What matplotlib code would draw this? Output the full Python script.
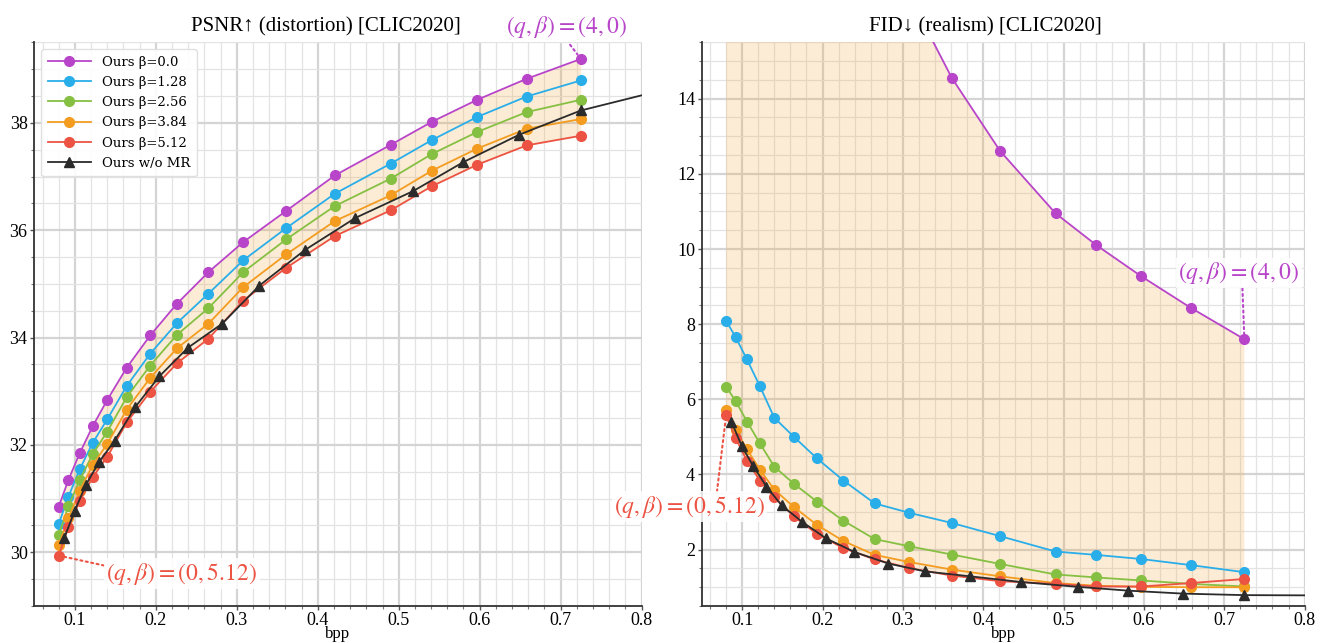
import matplotlib
matplotlib.use("Agg")
import matplotlib.pyplot as plt
from matplotlib.ticker import MultipleLocator
import numpy as np

plt.rcParams['font.family'] = ['Liberation Serif', 'DejaVu Serif']
plt.rcParams['mathtext.fontset'] = 'stix'

# bpp of the multi-rate model (same for all beta)
bpp = [0.080, 0.092, 0.106, 0.122, 0.140, 0.164, 0.193, 0.226, 0.265,
       0.308, 0.361, 0.421, 0.490, 0.541, 0.597, 0.658, 0.725]
# bpp of the model without MR (last point lies past the axis)
bpp_nomr = [0.0866, 0.0996, 0.1136, 0.1302, 0.149, 0.1747, 0.2044, 0.2395,
            0.282, 0.328, 0.384, 0.4466, 0.518, 0.580, 0.649, 0.725, 0.85]

betas = ['0.0', '1.28', '2.56', '3.84', '5.12']
colors = ['#b845c9', '#2aaee9', '#86c043', '#f39c20', '#ec5343']

psnr = {
    '0.0':  [30.85, 31.35, 31.85, 32.35, 32.84, 33.44, 34.04, 34.63, 35.22,
             35.78, 36.36, 37.02, 37.59, 38.02, 38.43, 38.82, 39.19],
    '1.28': [30.53, 31.04, 31.55, 32.04, 32.48, 33.10, 33.70, 34.27, 34.82,
             35.44, 36.04, 36.68, 37.24, 37.68, 38.11, 38.49, 38.79],
    '2.56': [30.33, 30.86, 31.35, 31.83, 32.25, 32.89, 33.48, 34.05, 34.55,
             35.22, 35.83, 36.45, 36.96, 37.42, 37.83, 38.20, 38.43],
    '3.84': [30.13, 30.64, 31.15, 31.63, 32.02, 32.66, 33.25, 33.80, 34.26,
             34.94, 35.55, 36.17, 36.65, 37.11, 37.52, 37.89, 38.07],
    '5.12': [29.94, 30.47, 30.96, 31.40, 31.78, 32.42, 32.99, 33.52, 33.98,
             34.69, 35.30, 35.89, 36.37, 36.82, 37.22, 37.58, 37.76],
}
psnr_nomr = [30.26, 30.77, 31.26, 31.69, 32.08, 32.71, 33.28, 33.81, 34.26,
             34.97, 35.63, 36.23, 36.73, 37.27, 37.78, 38.23, 38.70]

fid = {
    '0.0':  [50.0, 46.0, 42.0, 38.0, 34.0, 30.0, 26.0, 22.5, 19.5,
             16.74, 14.55, 12.61, 10.95, 10.10, 9.27, 8.44, 7.60],
    '1.28': [8.09, 7.65, 7.06, 6.35, 5.51, 5.01, 4.43, 3.84, 3.23,
             2.98, 2.71, 2.36, 1.95, 1.86, 1.75, 1.59, 1.40],
    '2.56': [6.34, 5.95, 5.41, 4.83, 4.21, 3.76, 3.28, 2.77, 2.28,
             2.09, 1.87, 1.62, 1.34, 1.26, 1.18, 1.09, 1.02],
    '3.84': [5.72, 5.19, 4.67, 4.13, 3.60, 3.14, 2.66, 2.23, 1.86,
             1.67, 1.47, 1.29, 1.11, 1.04, 1.01, 1.00, 1.00],
    '5.12': [5.57, 4.96, 4.36, 3.84, 3.40, 2.89, 2.42, 2.04, 1.74,
             1.51, 1.31, 1.16, 1.09, 1.02, 1.02, 1.11, 1.22],
}
fid_nomr = [5.41, 4.75, 4.23, 3.68, 3.18, 2.74, 2.30, 1.94, 1.63,
            1.42, 1.29, 1.14, 1.01, 0.91, 0.83, 0.79, 0.78]

fig = plt.figure(figsize=(13.25, 6.43), dpi=100)
ax1 = fig.add_axes([0.026, 0.0575, 0.4582, 0.8767])
ax2 = fig.add_axes([0.5298, 0.0575, 0.4548, 0.8767])


def style_axis(ax, ymajor):
    ax.set_xlim(0.05, 0.8)
    ax.xaxis.set_major_locator(MultipleLocator(0.1))
    ax.xaxis.set_minor_locator(MultipleLocator(0.02))
    ax.yaxis.set_major_locator(MultipleLocator(ymajor))
    ax.yaxis.set_minor_locator(MultipleLocator(0.5))
    ax.grid(which='major', color='#d4d4d4', linewidth=1.6, zorder=0)
    ax.grid(which='minor', color='#e3e3e3', linewidth=0.9, zorder=0)
    ax.set_axisbelow(True)
    for s in ['top', 'right']:
        ax.spines[s].set_visible(False)
    for s in ['left', 'bottom']:
        ax.spines[s].set_color('#333333')
        ax.spines[s].set_linewidth(1.3)
    ax.tick_params(which='major', length=3, width=1, color='#555555',
                   labelsize=13, pad=2)
    ax.tick_params(axis='x', which='major', pad=1)
    ax.tick_params(which='minor', length=2, width=0.8, color='#777777')
    ax.set_xlabel('bpp', fontsize=12, labelpad=-2)


def draw(ax, vals, nomr):
    for b, c in zip(betas, colors):
        ax.plot(bpp, vals[b], color=c, marker='o', markersize=7,
                linewidth=1.3, label='Ours β=' + b, zorder=3)
    ax.plot(bpp_nomr, nomr, color='#2b2b2b', marker='^', markersize=7,
            linewidth=1.3, label='Ours w/o MR', zorder=4)
    arr = np.array([vals[b] for b in betas])
    ax.fill_between(bpp, arr.max(axis=0), arr.min(axis=0),
                    color='#f5a330', alpha=0.2, linewidth=0, zorder=1)


# PSNR panel
style_axis(ax1, 2)
draw(ax1, psnr, psnr_nomr)
ax1.set_ylim(29, 39.5)
ax1.set_title('PSNR↑ (distortion) [CLIC2020]', fontsize=15, pad=8, x=0.48)
leg = ax1.legend(loc='upper left', prop={'family': 'DejaVu Serif', 'size': 9.5},
                 handlelength=3.3, framealpha=0.9, edgecolor='#dddddd',
                 borderpad=0.5, labelspacing=0.55)

ax1.annotate(r'$(q,\beta)=(4,0)$', xy=(bpp[-1], psnr['0.0'][-1]),
             xytext=(0.707, 39.79), ha='center', va='center', fontsize=17,
             color=colors[0], annotation_clip=False,
             arrowprops=dict(arrowstyle='-', linestyle=':', color=colors[0],
                             linewidth=1.5, relpos=(0.5, 0), shrinkA=2,
                             shrinkB=4))
ax1.annotate(r'$(q,\beta)=(0,5.12)$', xy=(bpp[0], psnr['5.12'][0]),
             xytext=(0.232, 29.6), ha='center', va='center', fontsize=17,
             color=colors[4],
             bbox=dict(boxstyle='square,pad=0.1', fc='white', ec='none', alpha=0.85),
             arrowprops=dict(arrowstyle='-', linestyle=':', color=colors[4],
                             linewidth=1.5, relpos=(0, 0.8), shrinkA=0,
                             shrinkB=4))

# FID panel
style_axis(ax2, 2)
draw(ax2, fid, fid_nomr)
ax2.set_ylim(0.5, 15.5)
ax2.set_title('FID↓ (realism) [CLIC2020]', fontsize=15, pad=8, x=0.47)

ax2.annotate(r'$(q,\beta)=(4,0)$', xy=(bpp[-1], fid['0.0'][-1]),
             xytext=(0.718, 9.36), ha='center', va='center', fontsize=17,
             color=colors[0],
             bbox=dict(boxstyle='square,pad=0.1', fc='white', ec='none', alpha=0.85),
             arrowprops=dict(arrowstyle='-', linestyle=':', color=colors[0],
                             linewidth=1.5, relpos=(0.53, 0), shrinkA=0,
                             shrinkB=4))
ax2.annotate(r'$(q,\beta)=(0,5.12)$', xy=(bpp[0], fid['5.12'][0]),
             xytext=(0.0345, 3.14), ha='center', va='center', fontsize=17,
             color=colors[4], annotation_clip=False,
             bbox=dict(boxstyle='square,pad=0.1', fc='white', ec='none', alpha=0.85),
             arrowprops=dict(arrowstyle='-', linestyle=':', color=colors[4],
                             linewidth=1.5, relpos=(0.68, 1), shrinkA=0,
                             shrinkB=4))

fig.savefig('out.png', dpi=100)
